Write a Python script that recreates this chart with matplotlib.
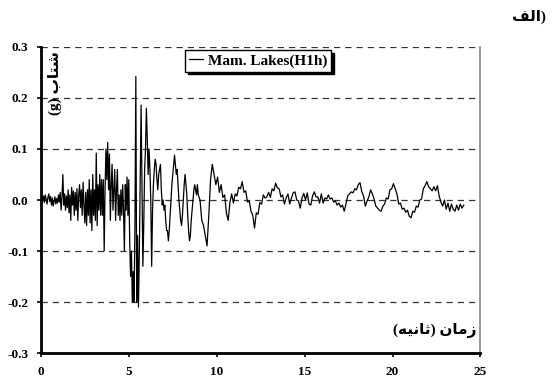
import numpy as np
import matplotlib.pyplot as plt

# acceleration record (g)
# part 1: 0 .. 9.0 s, every 0.05 s
acc_strong = [
    0.005, 0.010, 0.000, 0.008, -0.005, 0.010, 0.002, -0.008, 0.005, 0.012,
    -0.003, 0.007, -0.010, 0.004, -0.012, -0.002, 0.006, -0.008, 0.003, -0.006,
    0.010, -0.004, 0.015, -0.020, 0.005, 0.050, -0.010, 0.012, -0.020, 0.008,
    -0.015, 0.020, -0.025, 0.010, -0.040, 0.025, -0.010, 0.018, -0.030, 0.015,
    -0.020, 0.022, -0.040, 0.010, 0.030, -0.015, 0.020, -0.030, 0.035, -0.010,
    -0.045, 0.015, -0.050, 0.020, -0.030, 0.040, -0.045, 0.020, -0.060, 0.050,
    -0.030, 0.020, -0.040, 0.092, -0.050, 0.030, -0.020, 0.050, -0.030, 0.040,
    -0.030, 0.040, -0.100, 0.020, 0.100, 0.040, 0.113, 0.020, 0.090, -0.040,
    0.030, 0.070, -0.020, 0.020, 0.060, -0.040, 0.020, 0.060, -0.030, 0.010,
    -0.040, 0.020, -0.030, 0.030, -0.020, -0.100, 0.030, -0.020, 0.045, -0.030,
    0.040, -0.080, -0.150, -0.100, -0.200, -0.140, -0.200, -0.050, 0.242, -0.200,
    -0.070, -0.210, -0.100, 0.050, 0.186, 0.020, -0.130, -0.050, 0.060, 0.100,
    0.180, 0.120, 0.050, 0.100, 0.060, 0.000, -0.130, -0.020, 0.030, 0.060,
    0.080, 0.070, 0.040, 0.020, 0.050, 0.060, 0.070, 0.020, -0.010, 0.000,
    -0.020, -0.010, -0.040, -0.060, -0.060, -0.080, -0.060, -0.030, 0.000, 0.030,
    0.050, 0.070, 0.088, 0.070, 0.050, 0.060, 0.030, 0.000, -0.020, -0.040,
    -0.050, -0.030, 0.000, 0.030, 0.050, 0.030, 0.010, -0.030, -0.060, -0.080,
    -0.070, -0.040, -0.020, 0.000, 0.020, 0.030, 0.020, 0.010, 0.030, 0.010,
]
# part 2: 9.1 .. 24.1 s, every 0.1 s
acc_tail = [
    0.000, -0.040, -0.050, -0.070, -0.090, -0.030, 0.040, 0.070, 0.050, 0.030,
    0.045, 0.015, 0.030, 0.005, 0.010, -0.025, -0.040, -0.005, 0.012, -0.006,
    0.012, 0.008, 0.025, 0.022, 0.036, 0.015, 0.018, -0.004, -0.002, -0.022,
    -0.030, -0.055, -0.025, -0.028, -0.005, -0.008, 0.010, 0.004, 0.006, 0.015,
    0.005, 0.022, 0.018, 0.033, 0.024, 0.022, 0.006, 0.010, -0.008, 0.004,
    0.012, -0.008, 0.004, 0.014, 0.016, 0.000, -0.002, -0.016, 0.004, 0.013,
    0.000, 0.014, -0.008, -0.010, 0.008, 0.016, 0.006, 0.006, -0.006, 0.012,
    -0.006, 0.004, 0.002, 0.010, 0.002, 0.004, -0.004, -0.002, -0.010, -0.006,
    -0.014, -0.010, -0.022, -0.008, 0.008, 0.012, 0.016, 0.014, 0.022, 0.020,
    0.030, 0.034, 0.016, 0.008, -0.012, -0.002, 0.006, 0.020, 0.012, 0.002,
    -0.012, -0.016, -0.020, -0.022, -0.012, -0.008, 0.004, 0.002, 0.020, 0.022,
    0.032, 0.022, 0.012, -0.008, -0.006, -0.018, -0.016, -0.024, -0.020, -0.032,
    -0.035, -0.022, -0.024, -0.012, -0.014, 0.000, 0.002, 0.022, 0.028, 0.036,
    0.026, 0.022, 0.018, 0.026, 0.018, 0.028, 0.008, -0.004, -0.012, 0.000,
    -0.018, -0.006, -0.022, -0.008, -0.018, -0.022, -0.010, -0.020, -0.008, -0.016,
    -0.010,
]
dt_strong = 0.05
dt_tail = 0.1

y_ticks = [-0.3, -0.2, -0.1, 0.0, 0.1, 0.2, 0.3]
x_ticks = [0, 5, 10, 15, 20, 25]

series_name = 'Mam. Lakes(H1h)'
# persian labels, written in visual order with presentation forms
y_title = '(g) \ufe8f\ufe8e\ufe98\ufeb7'              # شتاب (g)
x_title = '(\ufeea\ufef4\ufee7\ufe8e\ufe9b) \ufee5\ufe8e\ufee3\ufeaf'   # زمان (ثانیه)
panel = '\ufed2\ufedf\ufe8d)'                       # الف)

t1 = np.arange(len(acc_strong)) * dt_strong
t2 = t1[-1] + dt_tail * (np.arange(len(acc_tail)) + 1)
t = np.concatenate([t1, t2])
acc = np.concatenate([acc_strong, acc_tail])

serif = ['Liberation Serif', 'DejaVu Sans']

fig = plt.figure(figsize=(5.6, 3.85), dpi=100)
ax = fig.add_axes([0.073, 0.083, 0.785, 0.795])

for yv in y_ticks:
    ax.axhline(yv, color='#333333', lw=0.9, ls=(0, (5, 4)), zorder=1)

ax.plot(t, acc, color='black', lw=0.9, label=series_name, zorder=3)

ax.set_xlim(0, 25)
ax.set_ylim(-0.3, 0.3)
ax.set_xticks(x_ticks)
ax.set_yticks(y_ticks)
ax.set_xticklabels([str(v) for v in x_ticks], family=serif, weight='bold', fontsize=9.5)
ax.set_yticklabels(['%.1f' % v for v in y_ticks], family=serif, weight='bold', fontsize=9.5)
ax.tick_params(axis='both', direction='out', length=3, width=1.2, pad=6)

ax.spines['left'].set_linewidth(2)
ax.spines['bottom'].set_linewidth(2)
ax.spines['top'].set_visible(False)
ax.spines['right'].set_color('#888888')
ax.spines['right'].set_linewidth(1.2)

leg = ax.legend(loc='upper left', bbox_to_anchor=(0.322, 1.0), handlelength=0.9,
                handletextpad=0.3, borderpad=0.25, borderaxespad=0.2, fancybox=False,
                shadow={'color': 'black', 'alpha': 1},
                prop={'family': serif, 'weight': 'bold', 'size': 11})
leg.get_frame().set_edgecolor('black')
leg.get_frame().set_linewidth(1.0)

ax.text(0.015, 0.985, y_title, transform=ax.transAxes, rotation=90,
        ha='left', va='top', family=serif, weight='bold', fontsize=11)
ax.text(0.99, 0.075, x_title, transform=ax.transAxes, ha='right', va='center',
        family=serif, weight='bold', fontsize=11)
fig.text(0.975, 0.955, panel, ha='right', va='center',
         family=serif, weight='bold', fontsize=11)

fig.savefig('out.png', dpi=100)
